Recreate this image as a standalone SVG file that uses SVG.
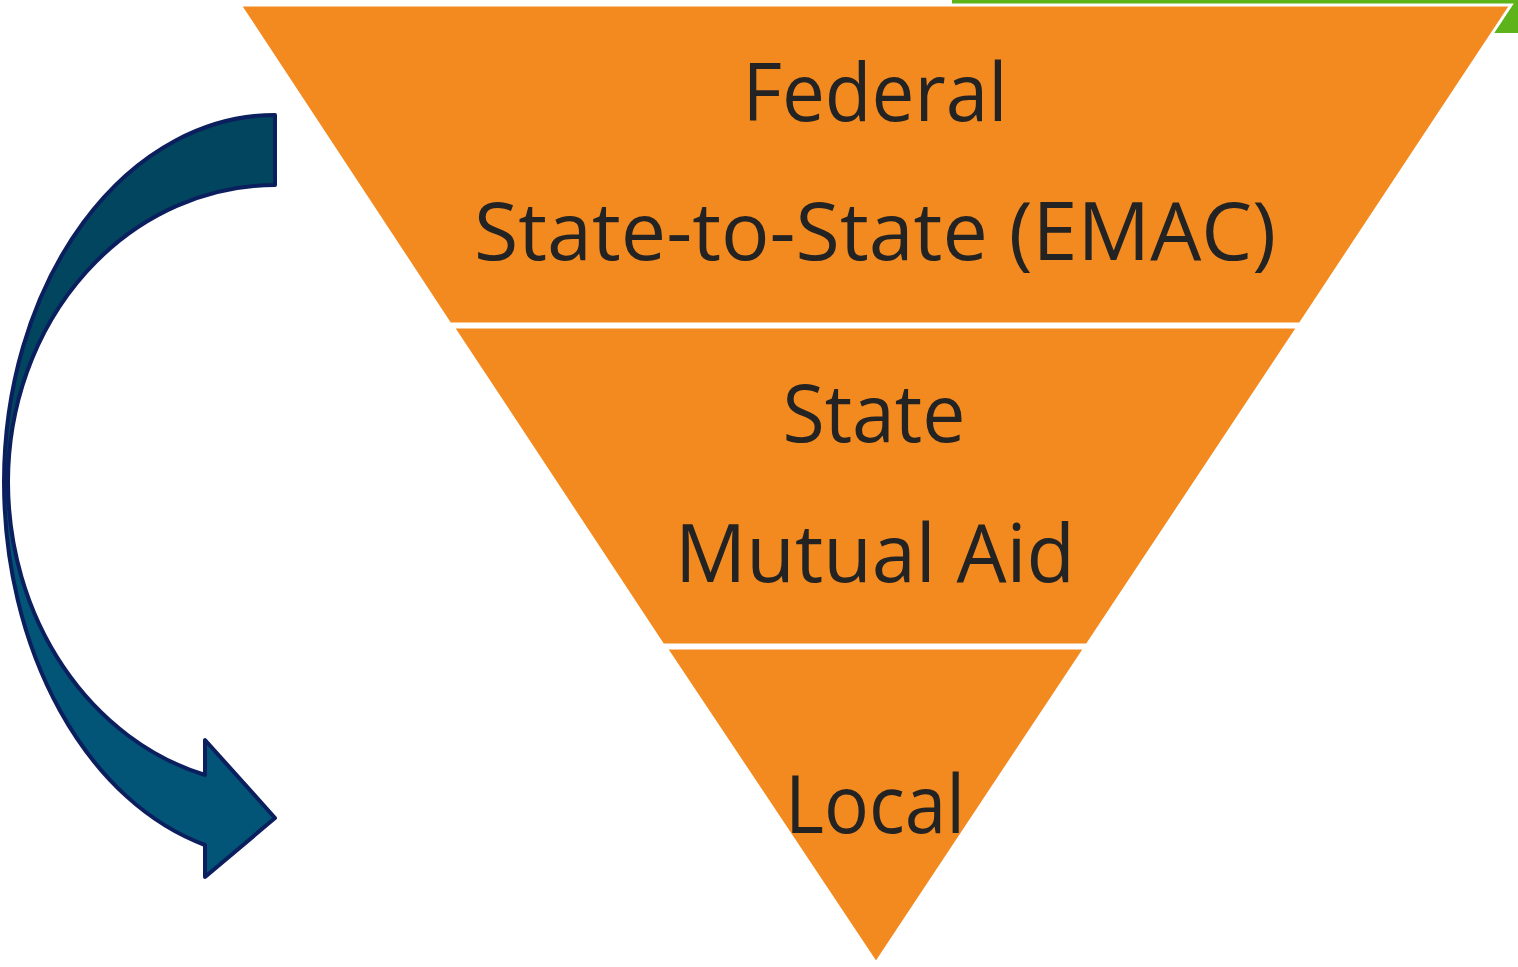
<svg xmlns="http://www.w3.org/2000/svg" width="1518" height="967" viewBox="0 0 1518 967">
<style>
.band{fill:#F38A20;stroke:#ffffff;stroke-width:3}
.lbl{font-family:"Open Sans","Noto Sans",sans-serif;font-size:80px;fill:#232323;text-anchor:middle}
.arr{stroke:#0B1F5E;stroke-width:4;stroke-linejoin:round}
</style>
<rect width="1518" height="967" fill="#ffffff"/>
<rect x="952" y="0" width="566" height="33" fill="#5DB31A"/>
<g id="pyramid">
<g id="band-top">
<polygon class="band" points="240,5 1511,5 1300,324 450,324"/>
<text class="lbl" x="875" y="121" textLength="265" lengthAdjust="spacingAndGlyphs">Federal</text>
<text class="lbl" x="875" y="260" textLength="802" lengthAdjust="spacingAndGlyphs">State-to-State (EMAC)</text>
</g>
<g id="band-middle">
<polygon class="band" points="453,327 1298,327 1087,645 663,645"/>
<text class="lbl" x="874" y="442" textLength="183" lengthAdjust="spacingAndGlyphs">State</text>
<text class="lbl" x="875" y="582" textLength="400" lengthAdjust="spacingAndGlyphs">Mutual Aid</text>
</g>
<g id="band-bottom">
<polygon class="band" points="666,648 1085,648 876,963"/>
<text class="lbl" x="875" y="833" textLength="180" lengthAdjust="spacingAndGlyphs">Local</text>
</g>
</g>
<g id="connectors">
<path class="arr" fill="#01465E" d="M275,115 A271,367 0 0 0 4,482 L8,482 A267,297 0 0 1 275,185 Z"/>
<path class="arr" fill="#025577" d="M4,482 A271,376 0 0 0 205,845 L205,877 L275,818 L205,740 L205,775 A267,304 0 0 1 8,482 Z"/>
</g>
</svg>
